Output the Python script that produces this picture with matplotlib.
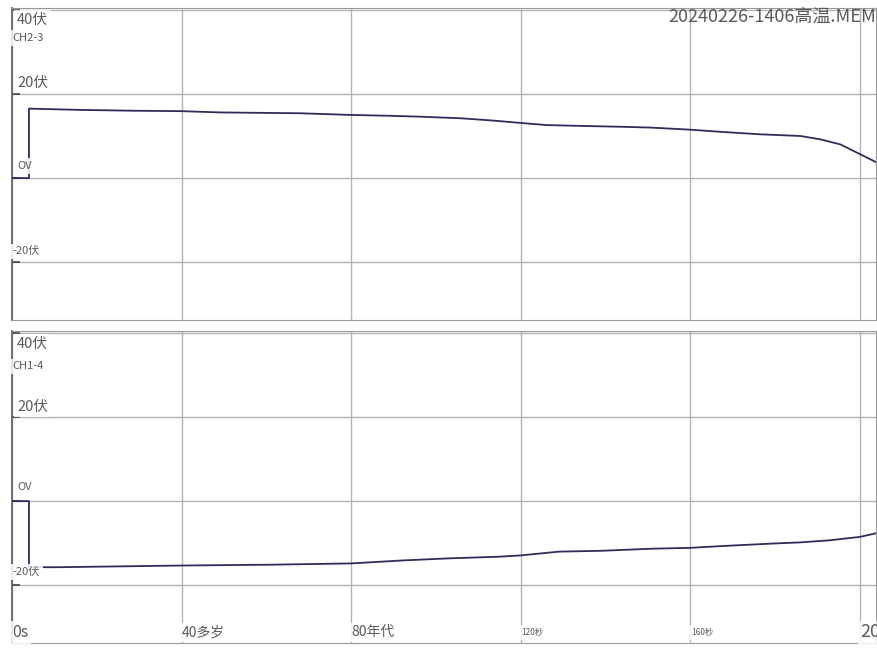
import matplotlib.pyplot as plt

plt.rcParams['font.family'] = ['Noto Sans CJK SC', 'DejaVu Sans']

# 数据 (秒, 伏)
t_ch23 = [0, 4, 4, 16, 29, 40, 49, 68, 80, 89, 96, 106, 113, 120, 126, 134,
          143.5, 150.6, 160, 167, 176.5, 186, 190.7, 195.4, 200, 204]
v_ch23 = [0, 0, 16.5, 16.2, 16.0, 15.9, 15.6, 15.4, 15.0, 14.8, 14.6, 14.2, 13.7,
          13.1, 12.6, 12.4, 12.2, 12.0, 11.5, 11.0, 10.4, 10.0, 9.2, 8.0, 5.7, 3.7]

t_ch14 = [0, 4, 4, 11, 40, 61, 80, 92, 103, 115, 120, 129, 139, 151, 160, 167,
          179, 186, 193, 200, 204]
v_ch14 = [0, 0, -15.7, -15.7, -15.3, -15.1, -14.8, -14.1, -13.6, -13.2, -12.9,
          -12.0, -11.8, -11.3, -11.1, -10.7, -10.1, -9.8, -9.3, -8.5, -7.6]

y_labels_top = ['40伏', 'CH2-3', '20伏', 'OV', '-20伏']
y_labels_bot = ['40伏', 'CH1-4', '20伏', 'OV', '-20伏']
x_labels = ['0s', '40多岁', '80年代', '120秒', '160秒', '200s']
x_ticks = [0, 40, 80, 120, 160, 200]
title = '20240226-1406高温.MEM'

line_color = '#2d2d5c'
grid_color = '#b4b4b4'
text_color = '#5a5a5a'

fig = plt.figure(figsize=(8.78, 6.49), dpi=100)
ax1 = fig.add_axes([12 / 878, 329 / 649, 864 / 878, 312 / 649])
ax2 = fig.add_axes([12 / 878, 6 / 649, 864 / 878, 312 / 649])

box = dict(facecolor='white', edgecolor='none', alpha=0.85, pad=2)


def setup(ax, labels, label_y):
    ax.set_xlim(0, 203.8)
    ax.set_ylim(-33.7, 40.4)
    ax.set_xticks(x_ticks)
    ax.set_yticks([-20, 0, 20, 40])
    ax.set_xticklabels([])
    ax.set_yticklabels([])
    ax.tick_params(axis='x', length=0)
    ax.tick_params(axis='y', direction='in', length=6, width=1.2, color='#444444')
    ax.grid(True, color=grid_color, linewidth=1)
    for side in ['top', 'right', 'bottom']:
        ax.spines[side].set_color('#999999')
    ax.spines['left'].set_color('#666666')
    ax.spines['left'].set_linewidth(1.3)
    sizes = [10.5, 8, 10.5, 8, 8]
    xs = [1.2, 0.2, 1.2, 1.2, 0.2]
    for lab, yy, s, xx in zip(labels, label_y, sizes, xs):
        ax.text(xx, yy, lab, fontsize=s, color=text_color, ha='left', va='center',
                bbox=box, zorder=5)


setup(ax1, y_labels_top, [37.6, 33.3, 22.7, 2.9, -17.4])
setup(ax2, y_labels_bot, [37.3, 32.0, 22.4, 3.3, -16.9])

ax1.plot(t_ch23, v_ch23, color=line_color, linewidth=1.3, zorder=3)
ax2.plot(t_ch14, v_ch14, color=line_color, linewidth=1.3, zorder=3)

# x 轴标签
x_sizes = [11.5, 10, 10, 6, 6, 13]
for xt, lab, s in zip(x_ticks, x_labels, x_sizes):
    ax2.text(xt + 0.1, -31.2, lab, fontsize=s, color=text_color, ha='left',
             va='center', bbox=box, zorder=5, clip_on=False)

fig.text(668 / 878, 1 - 17 / 649, title, fontsize=13, color=text_color,
         ha='left', va='center')

fig.savefig('out.png', dpi=100, facecolor='white')
